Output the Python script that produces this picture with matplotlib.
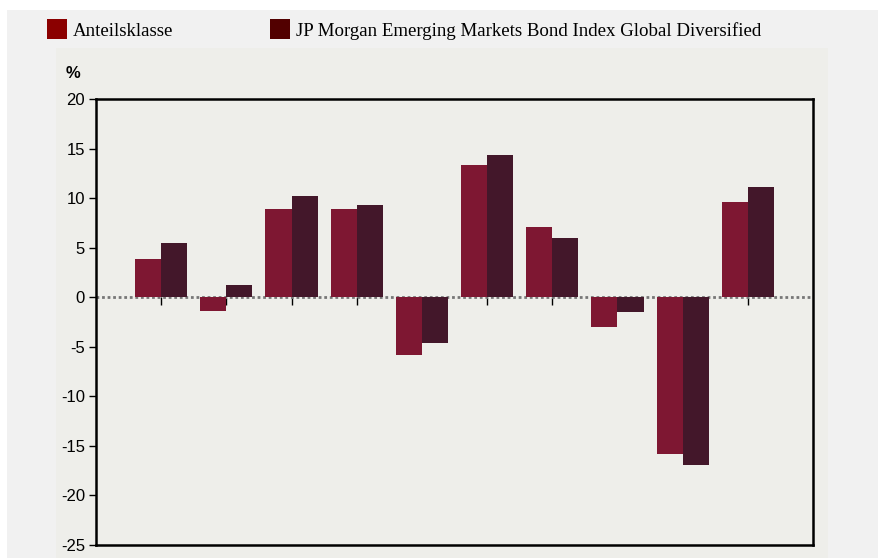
import numpy as np
import matplotlib.pyplot as plt
from matplotlib.patches import Rectangle

# values (percent)
anteil = [3.9, -1.4, 8.9, 8.9, -5.8, 13.3, 7.1, -3.0, -15.8, 9.6]
index_vals = [5.5, 1.2, 10.2, 9.3, -4.6, 14.3, 6.0, -1.5, -16.9, 11.1]
series_names = ['Anteilsklasse', 'JP Morgan Emerging Markets Bond Index Global Diversified']
bar_colors = ['#7e1732', '#43172a']
legend_colors = ['#8b0000', '#520000']
y_ticks = [20, 15, 10, 5, 0, -5, -10, -15, -20, -25]

W, H = 879, 558
fig = plt.figure(figsize=(W / 100, H / 100), dpi=100, facecolor='white')

# background panels
fig.patches.append(Rectangle((7 / W, 0), 1 - 7 / W, 1 - 10 / H, transform=fig.transFigure,
                             facecolor='#f1f1f1', edgecolor='none', zorder=-2))
fig.patches.append(Rectangle((56 / W, 0), (828 - 56) / W, 1 - 48 / H, transform=fig.transFigure,
                             facecolor='#eeeeea', edgecolor='none', zorder=-1))

ax = fig.add_axes([96 / W, 1 - 545 / H, (813 - 96) / W, (545 - 99) / H])
ax.set_facecolor('#eeeeea')

x = np.arange(len(anteil))
w = 0.4
ax.bar(x - w / 2, anteil, width=w, color=bar_colors[0], zorder=3)
ax.bar(x + w / 2, index_vals, width=w, color=bar_colors[1], zorder=3)

# dotted zero line with small ticks hanging below it (behind the bars)
ax.axhline(0, color='#777777', lw=2, ls=(0, (1, 1)), zorder=2)
ax.plot(x, np.zeros(len(x)), ls='none', marker=3, markersize=6, color='black',
        markeredgewidth=1, zorder=1)

ax.set_xlim(-1, 10)
ax.set_ylim(-25, 20)
ax.set_xticks([])
ax.set_yticks(y_ticks)
ax.set_yticklabels([str(t) for t in y_ticks], fontsize=12, family='Liberation Sans')
ax.tick_params(axis='y', length=5, width=1, pad=3)
for s in ax.spines.values():
    s.set_linewidth(1.8)
    s.set_color('black')

fig.text(73 / W, 1 - 73 / H, '%', fontsize=12, fontweight='bold', family='Liberation Sans',
         ha='center', va='center')

# legend
leg_x = [47, 270]
for lx, name, c in zip(leg_x, series_names, legend_colors):
    fig.patches.append(Rectangle((lx / W, 1 - 39 / H), 20 / W, 20 / H, transform=fig.transFigure,
                                 facecolor=c, edgecolor='none'))
    fig.text((lx + 26) / W, 1 - 31 / H, name, fontsize=13.6, family='Liberation Serif',
             ha='left', va='center')

fig.savefig('out.png', dpi=100, facecolor=fig.get_facecolor())
